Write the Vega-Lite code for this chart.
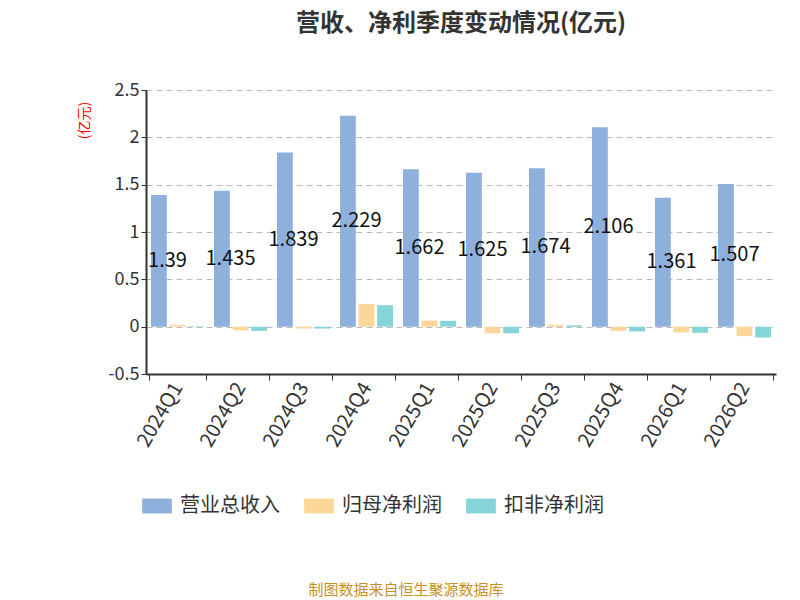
{
"$schema":"https://vega.github.io/schema/vega-lite/v6.json",
"width":630,"height":284,
"padding":{"left":77,"top":12,"right":20,"bottom":5},
"title":{"text":"营收、净利季度变动情况(亿元)","fontSize":24,"fontWeight":"bold","color":"#333","font":"Noto Sans CJK SC","offset":45,"anchor":"middle"},
"config":{"font":"Noto Sans CJK SC","view":{"stroke":null}},
"data":{"values":[
{"q":"2024Q1","s":"营业总收入","v":1.39},{"q":"2024Q1","s":"归母净利润","v":0.02},{"q":"2024Q1","s":"扣非净利润","v":0.005},
{"q":"2024Q2","s":"营业总收入","v":1.435},{"q":"2024Q2","s":"归母净利润","v":-0.04},{"q":"2024Q2","s":"扣非净利润","v":-0.045},
{"q":"2024Q3","s":"营业总收入","v":1.839},{"q":"2024Q3","s":"归母净利润","v":-0.02},{"q":"2024Q3","s":"扣非净利润","v":-0.02},
{"q":"2024Q4","s":"营业总收入","v":2.229},{"q":"2024Q4","s":"归母净利润","v":0.24},{"q":"2024Q4","s":"扣非净利润","v":0.227},
{"q":"2025Q1","s":"营业总收入","v":1.662},{"q":"2025Q1","s":"归母净利润","v":0.064},{"q":"2025Q1","s":"扣非净利润","v":0.062},
{"q":"2025Q2","s":"营业总收入","v":1.625},{"q":"2025Q2","s":"归母净利润","v":-0.07},{"q":"2025Q2","s":"扣非净利润","v":-0.07},
{"q":"2025Q3","s":"营业总收入","v":1.674},{"q":"2025Q3","s":"归母净利润","v":0.02},{"q":"2025Q3","s":"扣非净利润","v":0.015},
{"q":"2025Q4","s":"营业总收入","v":2.106},{"q":"2025Q4","s":"归母净利润","v":-0.045},{"q":"2025Q4","s":"扣非净利润","v":-0.05},
{"q":"2026Q1","s":"营业总收入","v":1.361},{"q":"2026Q1","s":"归母净利润","v":-0.06},{"q":"2026Q1","s":"扣非净利润","v":-0.065},
{"q":"2026Q2","s":"营业总收入","v":1.507},{"q":"2026Q2","s":"归母净利润","v":-0.1},{"q":"2026Q2","s":"扣非净利润","v":-0.115}
]},
"encoding":{
"x":{"field":"q","type":"nominal","sort":null,"scale":{"paddingInner":0.1,"paddingOuter":0.05},
"axis":{"title":null,"labelAngle":-60,"labelFontSize":20,"labelColor":"#333","domainColor":"#333","tickColor":"#333","tickSize":6,"labelPadding":4,"domainWidth":2,"tickBand":"extent"}}
},
"layer":[
{"mark":{"type":"bar"},
"encoding":{
"xOffset":{"field":"s","type":"nominal","sort":["营业总收入","归母净利润","扣非净利润"],"scale":{"paddingInner":0.15,"paddingOuter":0.1}},
"y":{"field":"v","type":"quantitative","scale":{"domain":[-0.5,2.5],"nice":false},
"axis":{"values":[-0.5,0,0.5,1,1.5,2,2.5],"labelExpr":"datum.value","title":"(亿元)","titleColor":"red","titleFontSize":14,"titleFontWeight":"normal","titleAngle":-90,"titleX":-55,"titleY":30,"labelFontSize":18,"labelColor":"#333","gridDash":[6,4],"gridColor":"#bbb","domainColor":"#333","domainWidth":2,"tickColor":"#333"}},
"color":{"field":"s","type":"nominal","sort":["营业总收入","归母净利润","扣非净利润"],
"scale":{"range":["#8eb0dc","#fdd79a","#85d5d8"]},
"legend":{"orient":"bottom","title":null,"labelFontSize":20,"labelColor":"#333","labelOffset":12,"symbolType":"M-1.4,-0.7h2.8v1.4h-2.8z","symbolSize":450,"symbolStrokeWidth":0,"columnPadding":24,"offset":45}}}},
{"transform":[{"filter":"datum.s=='营业总收入'"},{"calculate":"datum.v/2","as":"mid"}],
"mark":{"type":"text","fontSize":20,"color":"#111","dx":-10},
"encoding":{"y":{"field":"mid","type":"quantitative"},"text":{"field":"v","type":"quantitative"}}},
{"data":{"values":[{"t":"制图数据来自恒生聚源数据库"}]},
"mark":{"type":"text","fontSize":15,"color":"#c8902a","y":500,"x":260},
"encoding":{"text":{"field":"t"},"x":null}}
]
}
